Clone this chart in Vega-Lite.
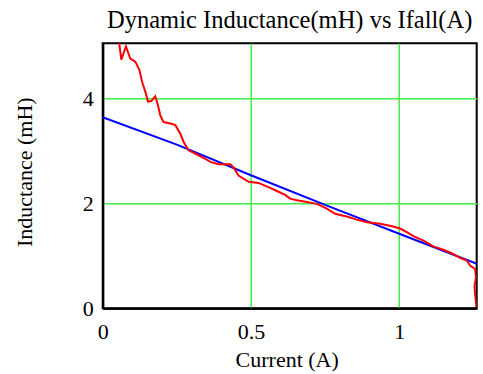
{
  "$schema": "https://vega.github.io/schema/vega-lite/v6.json",
  "autosize": {"type": "none"},
  "width": 374,
  "height": 265,
  "padding": {"left": 102.7, "top": 43.3, "right": 6.3, "bottom": 65.7},
  "background": "white",
  "config": {
    "font": "Liberation Serif",
    "view": {"stroke": "black", "strokeWidth": 2},
    "axis": {
      "labelFont": "Liberation Serif",
      "titleFont": "Liberation Serif",
      "labelFontSize": 22,
      "titleFontSize": 22,
      "labelColor": "black",
      "titleColor": "black",
      "titleFontWeight": "normal",
      "ticks": false,
      "tickSize": 0,
      "domain": true,
      "domainColor": "black",
      "domainWidth": 2,
      "grid": true,
      "gridColor": {"condition": {"test": "datum.value === 0", "value": "black"}, "value": "#40f040"},
      "gridWidth": {"condition": {"test": "datum.value === 0", "value": 2}, "value": 1.5}
    },
    "title": {"font": "Liberation Serif", "fontSize": 24.5, "fontWeight": "normal", "color": "black"}
  },
  "title": {"text": "Dynamic Inductance(mH) vs Ifall(A)", "offset": 10},
  "data": {"values": [
    {"series": "fit", "i": 0, "current": 0.0, "L": 3.64},
    {"series": "fit", "i": 1, "current": 0.25, "L": 3.12},
    {"series": "fit", "i": 2, "current": 0.5, "L": 2.535},
    {"series": "fit", "i": 3, "current": 0.75, "L": 1.97},
    {"series": "fit", "i": 4, "current": 1.0, "L": 1.42},
    {"series": "fit", "i": 5, "current": 1.262, "L": 0.85},
    {"series": "measured", "i": 0, "current": 0.05, "L": 5.3},
    {"series": "measured", "i": 1, "current": 0.0627, "L": 4.74},
    {"series": "measured", "i": 2, "current": 0.0785, "L": 4.99},
    {"series": "measured", "i": 3, "current": 0.093, "L": 4.76},
    {"series": "measured", "i": 4, "current": 0.110, "L": 4.70},
    {"series": "measured", "i": 5, "current": 0.124, "L": 4.54},
    {"series": "measured", "i": 6, "current": 0.1325, "L": 4.32},
    {"series": "measured", "i": 7, "current": 0.1436, "L": 4.13},
    {"series": "measured", "i": 8, "current": 0.1527, "L": 3.94},
    {"series": "measured", "i": 9, "current": 0.1638, "L": 3.95},
    {"series": "measured", "i": 10, "current": 0.1773, "L": 4.04},
    {"series": "measured", "i": 11, "current": 0.1864, "L": 3.87},
    {"series": "measured", "i": 12, "current": 0.194, "L": 3.68},
    {"series": "measured", "i": 13, "current": 0.205, "L": 3.55},
    {"series": "measured", "i": 14, "current": 0.228, "L": 3.52},
    {"series": "measured", "i": 15, "current": 0.245, "L": 3.49},
    {"series": "measured", "i": 16, "current": 0.2615, "L": 3.33},
    {"series": "measured", "i": 17, "current": 0.273, "L": 3.17},
    {"series": "measured", "i": 18, "current": 0.2895, "L": 3.01},
    {"series": "measured", "i": 19, "current": 0.312, "L": 2.95},
    {"series": "measured", "i": 20, "current": 0.346, "L": 2.85},
    {"series": "measured", "i": 21, "current": 0.3626, "L": 2.79},
    {"series": "measured", "i": 22, "current": 0.3906, "L": 2.745},
    {"series": "measured", "i": 23, "current": 0.430, "L": 2.745},
    {"series": "measured", "i": 24, "current": 0.441, "L": 2.69},
    {"series": "measured", "i": 25, "current": 0.458, "L": 2.53},
    {"series": "measured", "i": 26, "current": 0.492, "L": 2.41},
    {"series": "measured", "i": 27, "current": 0.5254, "L": 2.39},
    {"series": "measured", "i": 28, "current": 0.559, "L": 2.31},
    {"series": "measured", "i": 29, "current": 0.5875, "L": 2.235},
    {"series": "measured", "i": 30, "current": 0.6154, "L": 2.16},
    {"series": "measured", "i": 31, "current": 0.632, "L": 2.09},
    {"series": "measured", "i": 32, "current": 0.655, "L": 2.06},
    {"series": "measured", "i": 33, "current": 0.6886, "L": 2.025},
    {"series": "measured", "i": 34, "current": 0.722, "L": 1.99},
    {"series": "measured", "i": 35, "current": 0.756, "L": 1.90},
    {"series": "measured", "i": 36, "current": 0.784, "L": 1.80},
    {"series": "measured", "i": 37, "current": 0.823, "L": 1.75},
    {"series": "measured", "i": 38, "current": 0.857, "L": 1.69},
    {"series": "measured", "i": 39, "current": 0.891, "L": 1.64},
    {"series": "measured", "i": 40, "current": 0.9356, "L": 1.61},
    {"series": "measured", "i": 41, "current": 0.980, "L": 1.56},
    {"series": "measured", "i": 42, "current": 1.003, "L": 1.52},
    {"series": "measured", "i": 43, "current": 1.0256, "L": 1.45},
    {"series": "measured", "i": 44, "current": 1.048, "L": 1.375},
    {"series": "measured", "i": 45, "current": 1.0816, "L": 1.29},
    {"series": "measured", "i": 46, "current": 1.115, "L": 1.18},
    {"series": "measured", "i": 47, "current": 1.149, "L": 1.115},
    {"series": "measured", "i": 48, "current": 1.177, "L": 1.05},
    {"series": "measured", "i": 49, "current": 1.205, "L": 0.96},
    {"series": "measured", "i": 50, "current": 1.228, "L": 0.91},
    {"series": "measured", "i": 51, "current": 1.239, "L": 0.815},
    {"series": "measured", "i": 52, "current": 1.256, "L": 0.75},
    {"series": "measured", "i": 53, "current": 1.259, "L": 0.59},
    {"series": "measured", "i": 54, "current": 1.254, "L": 0.42},
    {"series": "measured", "i": 55, "current": 1.256, "L": 0.27},
    {"series": "measured", "i": 56, "current": 1.261, "L": 0.02}
  ]},
  "mark": {"type": "line", "clip": true, "strokeWidth": 2},
  "encoding": {
    "x": {
      "field": "current", "type": "quantitative",
      "scale": {"domain": [0, 1.2614], "nice": false, "zero": false},
      "axis": {"title": "Current (A)", "values": [0, 0.5, 1], "labelPadding": 13, "labelDx": 4, "titlePadding": 7, "titleX": 184, "format": "~g", "labelFlush": false}
    },
    "y": {
      "field": "L", "type": "quantitative",
      "scale": {"domain": [0, 5.05], "nice": false, "zero": false},
      "axis": {"title": "Inductance (mH)", "values": [0, 2, 4], "labelPadding": 9.5, "labelDy": 5.5, "titlePadding": 46, "titleY": 128.4, "labelFlush": false}
    },
    "color": {
      "field": "series", "type": "nominal",
      "scale": {"domain": ["measured", "fit"], "range": ["#ff0000", "#0000ff"]},
      "legend": null
    },
    "order": {"field": "i", "type": "quantitative"}
  }
}
